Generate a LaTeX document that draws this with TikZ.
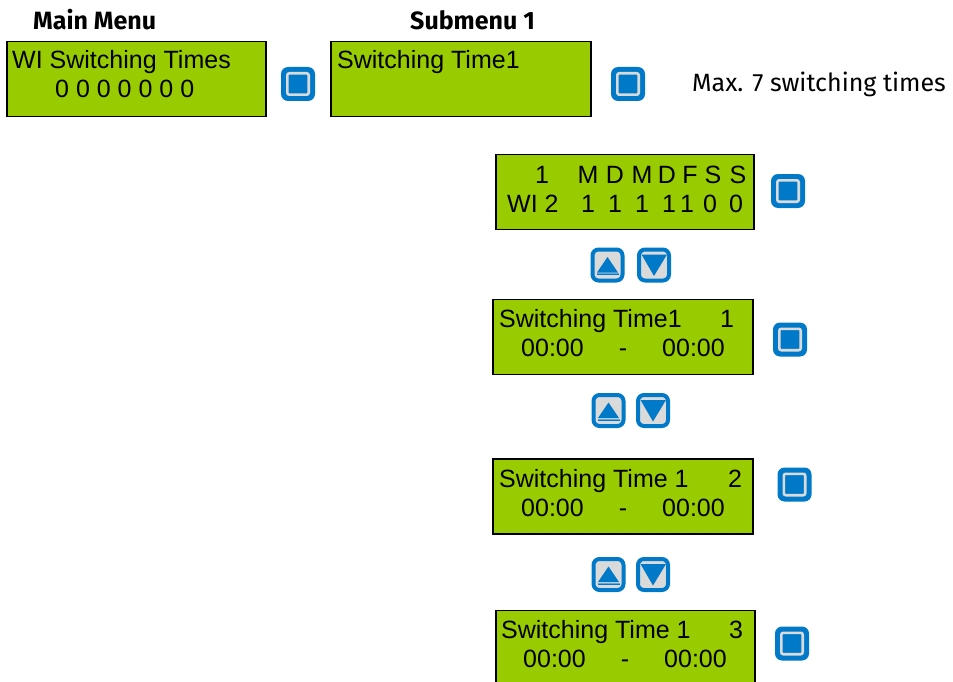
\documentclass[tikz,border=0pt]{standalone}
\usepackage{fontspec}
\setmainfont{Liberation Sans}
\newfontfamily\hdfont{Fira Sans}
\definecolor{lcdgreen}{RGB}{153,204,0}
\definecolor{btnblue}{RGB}{0,122,200}
\definecolor{btngray}{RGB}{218,218,218}
\definecolor{lightblue}{RGB}{90,170,230}
\newcommand{\lcdsize}{\fontsize{25}{30}\selectfont}
\begin{document}
\begin{tikzpicture}[x=1pt,y=-1pt,
  lcd/.style={draw=black, line width=1.6pt, fill=lcdgreen, inner sep=0, minimum width=258pt, minimum height=75pt},
  lt/.style={font=\lcdsize, inner sep=0, anchor=base west},
  lc/.style={font=\lcdsize, inner sep=0, anchor=base},
  hd/.style={font=\hdfont\bfseries\fontsize{25}{30}\selectfont, inner sep=0, anchor=base west},
  note/.style={font=\hdfont\fontsize{25}{30}\selectfont, inner sep=0, anchor=base west},
  okbtn/.style={rectangle, minimum width=34pt, minimum height=34pt, inner sep=0, fill=btnblue, rounded corners=7pt,
    path picture={\draw[btngray, line width=2.6pt, rounded corners=2pt]
      ([shift={(6.3pt,6.3pt)}]path picture bounding box.south west) rectangle
      ([shift={(-6.3pt,-6.3pt)}]path picture bounding box.north east);}},
  arrbtn/.style={rectangle, minimum width=30pt, minimum height=31pt, inner sep=0, fill=btngray, draw=btnblue, line width=4pt, rounded corners=6pt},
  upbtn/.style={arrbtn, path picture={
    \fill[btnblue, sharp corners] ([shift={(0pt,8pt)}]path picture bounding box.center) --
      ([shift={(-10.5pt,-7.5pt)}]path picture bounding box.center) --
      ([shift={(10.5pt,-7.5pt)}]path picture bounding box.center) -- cycle;
    \draw[lightblue, sharp corners, line width=1.2pt] ([shift={(-11pt,-8.6pt)}]path picture bounding box.center) --
      ([shift={(11pt,-8.6pt)}]path picture bounding box.center);
    \fill[btnblue, sharp corners] ([shift={(-11pt,-9.2pt)}]path picture bounding box.center) rectangle
      ([shift={(11pt,-10.4pt)}]path picture bounding box.center);}},
  dnbtn/.style={arrbtn, path picture={
    \fill[btnblue, sharp corners] ([shift={(-12.5pt,10.5pt)}]path picture bounding box.center) --
      ([shift={(13pt,10.5pt)}]path picture bounding box.center) --
      ([shift={(0pt,-11pt)}]path picture bounding box.center) -- cycle;}}
]
\useasboundingbox (0,0) rectangle (953,682);

% headers
\node[hd] (hmain) at (33,30) {Main Menu};
\node[hd] (hsub) at (410,30) {Submenu 1};
\node[note] (max) at (692,92) {Max. 7 switching times};

% LCD boxes
\node[lcd, minimum width=259pt] (lcd1) at (136.5,79) {};
\node[lcd, minimum width=260pt] (lcd2) at (461,79) {};
\node[lcd] (lcd3) at (625,192) {};
\node[lcd, minimum width=260pt] (lcd4) at (623,337) {};
\node[lcd, minimum width=260pt] (lcd5) at (623,496.5) {};
\node[lcd, minimum width=259pt] (lcd6) at (625.5,648) {};

% texts box 1
\node[lt] (t1a) at (12,69) {WI Switching Times};
\node[lt] (t1b) at (55,98) {0 0 0 0 0 0 0};
% box 2
\node[lt] (t2a) at (337,69) {Switching Time1};
% box 3
\node[lc] (t3n) at (542,183) {1};
\node[lc] (d1) at (588,183) {M};
\node[lc] (d2) at (615,183) {D};
\node[lc] (d3) at (642,183) {M};
\node[lc] (d4) at (667,183) {D};
\node[lc] (d5) at (690,183) {F};
\node[lc] (d6) at (713,183) {S};
\node[lc] (d7) at (738,183) {S};
\node[lt] (t3w) at (507,212) {WI 2};
\node[lc] (v1) at (588,212) {1};
\node[lc] (v2) at (615,212) {1};
\node[lc] (v3) at (642,212) {1};
\node[lc] (v4) at (669,212) {1};
\node[lc] (v5) at (687,212) {1};
\node[lc] (v6) at (710,212) {0};
\node[lc] (v7) at (736,212) {0};
% box 4
\node[lt] (t4a) at (499,327) {Switching Time1};
\node[lc] (t4n) at (727,327) {1};
\node[lt] (t4b) at (521,356) {00:00};
\node[lc] (t4d) at (623,356) {-};
\node[lt] (t4c) at (662,356) {00:00};
% box 5
\node[lt] (t5a) at (499,487) {Switching Time 1};
\node[lc] (t5n) at (735,487) {2};
\node[lt] (t5b) at (521,516) {00:00};
\node[lc] (t5d) at (623,516) {-};
\node[lt] (t5c) at (662,516) {00:00};
% box 6
\node[lt] (t6a) at (501,638) {Switching Time 1};
\node[lc] (t6n) at (736,638) {3};
\node[lt] (t6b) at (523,667) {00:00};
\node[lc] (t6d) at (625,667) {-};
\node[lt] (t6c) at (664,667) {00:00};

% ok buttons
\node[okbtn] (b1) at (298,84) {};
\node[okbtn] (b2) at (628,84) {};
\node[okbtn] (b3) at (788,191) {};
\node[okbtn] (b4) at (790,339.5) {};
\node[okbtn] (b5) at (794.5,484.5) {};
\node[okbtn] (b6) at (792,643.5) {};

% arrow buttons
\node[upbtn] (up1) at (607.5,265) {};
\node[dnbtn] (dn1) at (654,265) {};
\node[upbtn] (up2) at (608.5,410.5) {};
\node[dnbtn] (dn2) at (653,410.5) {};
\node[upbtn] (up3) at (608.5,574.5) {};
\node[dnbtn] (dn3) at (653,574.5) {};
\end{tikzpicture}
\end{document}
